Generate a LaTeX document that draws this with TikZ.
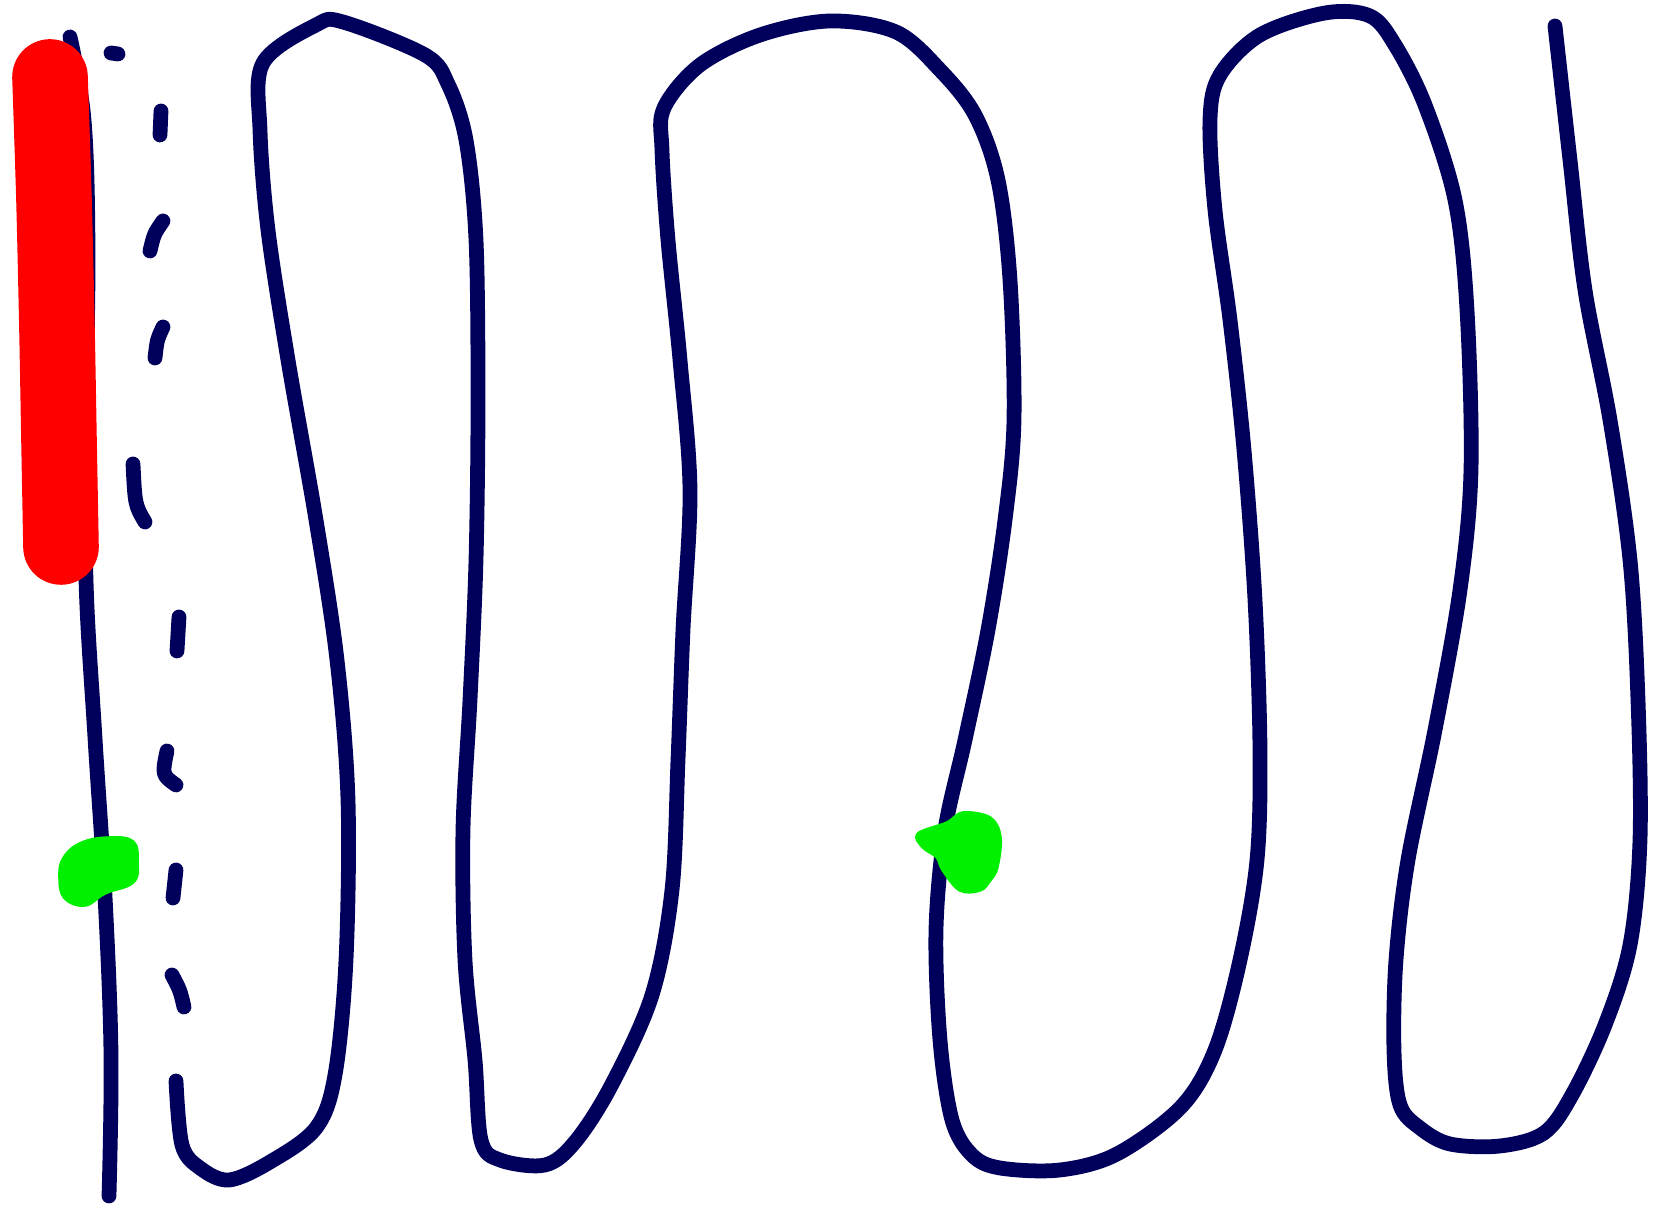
\documentclass[tikz,border=0pt]{standalone}
\usepackage{tikz}
\definecolor{inknavy}{HTML}{00005C}
\definecolor{markred}{HTML}{FF0000}
\definecolor{markgreen}{HTML}{00F000}
\tikzset{
  ink/.style={draw=inknavy, line width=4.2pt, line cap=round, line join=round},
  hilite/.style={draw=markred, line width=21.5pt, line cap=round, line join=round},
  blob/.style={fill=markgreen, draw=markgreen, line width=1pt},
}
\begin{document}
\begin{tikzpicture}[x=0.01cm, y=-0.01cm]
  \useasboundingbox (0,0) rectangle (1653,1210);
  % left stroke
  \draw[ink] plot[smooth, tension=0.6] coordinates {(70,37) (84,120) (88,250) (86,420) (86,580) (95,738) (105,896) (111,1054) (109,1196)};
  % loose dashes that run into the meander
  \foreach \a/\b/\c in {{111,53}/{114,53}/{118,54}, {161,111}/{161,123}/{160,135}, {163,221}/{154,234}/{150,251},
                        {163,327}/{157,340}/{155,358}, {133,464}/{135,505}/{145,522}, {179,617}/{178,634}/{177,651},
                        {167,751}/{162,775}/{176,785}, {176,870}/{174,884}/{173,898}, {172,975}/{180,990}/{184,1007}}
    \draw[ink] (\a) .. controls (\b) .. (\c);
  % the meander
  \draw[ink] plot[smooth, tension=0.55] coordinates {
    (176,1081) (182,1145) (200,1168) (229,1180) (270,1162) (316,1128) (335,1075) (346,960) (348,800)
    (337,660) (316,520) (288,360) (268,230) (260,130) (263,63) (316,25) (343,22) (425,55) (448,84)
    (466,140) (476,240) (478,400) (476,560) (470,700) (463,830) (465,960) (475,1060) (481,1140)
    (500,1160) (545,1165) (575,1142) (611,1086) (652,995) (672,890) (678,760) (683,630) (690,490)
    (680,360) (668,240) (662,150) (664,108) (700,65) (760,35) (830,21) (896,32) (940,70) (975,115)
    (998,180) (1010,280) (1014,420) (1005,520) (988,630) (965,740) (945,830) (936,930) (940,1040)
    (952,1120) (972,1155) (1000,1168) (1060,1170) (1117,1154) (1181,1107) (1215,1050) (1240,960)
    (1257,860) (1260,750) (1255,600) (1244,450) (1230,320) (1215,210) (1210,120) (1220,75)
    (1260,35) (1325,13) (1370,16) (1395,45) (1425,105) (1455,200) (1467,310) (1471,470) (1460,590)
    (1435,730) (1408,860) (1396,960) (1394,1050) (1400,1105) (1420,1128) (1450,1144) (1500,1146)
    (1544,1133) (1572,1095) (1605,1025) (1630,945) (1640,840) (1638,700) (1630,560) (1610,420)
    (1585,290) (1570,160) (1555,26)};
  % red highlight over the left stroke
  \draw[hilite] plot[smooth] coordinates {(50,77) (54,200) (57,330) (59,440) (61,547)};
  % green marks
  \fill[blob] plot[smooth cycle, tension=0.7] coordinates {(64,858) (82,843) (110,838) (133,842) (137,862) (133,882) (105,893) (85,905) (65,898) (60,878)};
  \fill[blob] plot[smooth cycle, tension=0.6] coordinates {(918,834) (947,823) (963,813) (990,818) (1000,837) (997,867) (990,880) (980,890) (960,890) (943,870) (937,857) (923,847)};
\end{tikzpicture}
\end{document}
